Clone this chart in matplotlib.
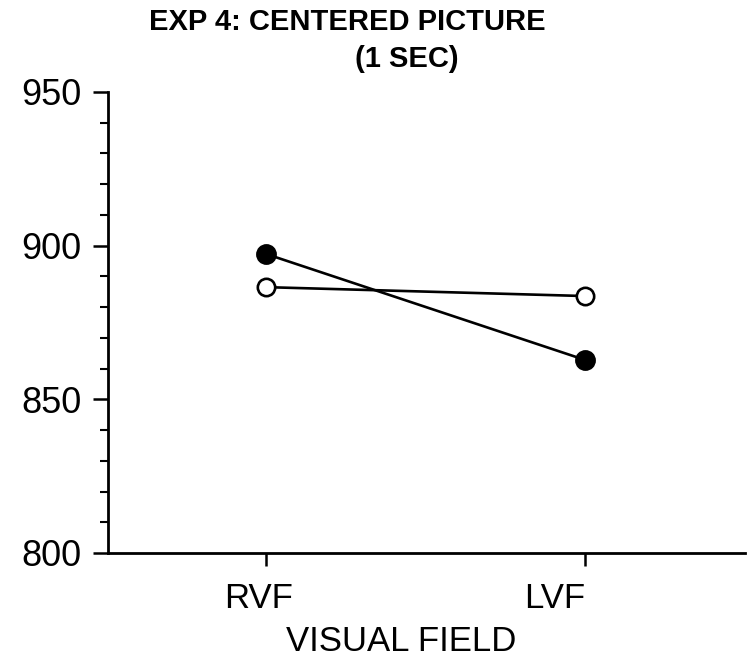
import matplotlib
matplotlib.use("Agg")
import matplotlib.pyplot as plt
from matplotlib.ticker import MultipleLocator
from matplotlib.transforms import ScaledTranslation

plt.rcParams['font.family'] = ['Liberation Sans', 'DejaVu Sans']

fields = ["RVF", "LVF"]
filled_rt = [897.3, 862.8]
open_rt = [886.5, 883.6]
y_ticks = [800, 850, 900, 950]

fig = plt.figure(figsize=(7.47, 6.57), dpi=100)
ax = fig.add_axes([0.1446, 0.1583, 0.8524, 0.7017])

x = list(range(len(fields)))
ax.plot(x, filled_rt, color="black", lw=1.9, marker="o", ms=13.5,
        mfc="black", mec="black", mew=1.5, zorder=3)
ax.plot(x, open_rt, color="black", lw=1.9, marker="o", ms=12.5,
        mfc="white", mec="black", mew=1.9, zorder=3)

ax.set_xlim(-0.495, 1.5)
ax.set_ylim(800, 950)
ax.set_xticks(x)
ax.set_xticklabels(fields)
ax.set_yticks(y_ticks)
ax.yaxis.set_minor_locator(MultipleLocator(10))

for s in ("top", "right"):
    ax.spines[s].set_visible(False)
for s in ("left", "bottom"):
    ax.spines[s].set_linewidth(2.0)

ax.tick_params(axis="y", which="major", length=11, width=1.8, labelsize=26, pad=8)
ax.tick_params(axis="y", which="minor", length=6, width=1.5)
ax.tick_params(axis="x", which="major", length=9, width=1.8, labelsize=25, pad=12)

# nudge the category labels slightly left of their ticks
shifts = [-7, -30]
for lab, dx in zip(ax.get_xticklabels(), shifts):
    lab.set_transform(lab.get_transform() + ScaledTranslation(dx / 100, 0, fig.dpi_scale_trans))

ax.set_xlabel("VISUAL FIELD", fontsize=25, labelpad=7)
ax.xaxis.label.set_x(0.46)

fig.text(0.465, 0.966, "EXP 4: CENTERED PICTURE", ha="center", va="center",
         fontsize=21, fontweight="bold")
fig.text(0.544, 0.910, "(1 SEC)", ha="center", va="center",
         fontsize=21, fontweight="bold")

fig.savefig("out.png", dpi=100)
